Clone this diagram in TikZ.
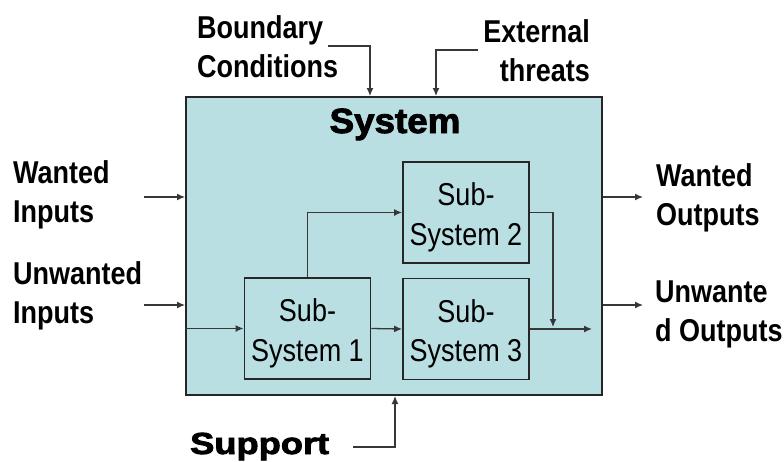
\documentclass[tikz,border=0pt]{standalone}
\usepackage{fontspec}
\setmainfont{Liberation Sans}
\newfontfamily\heavyfont[FakeBold=2.5]{Liberation Sans Bold}
\usetikzlibrary{arrows.meta}
\definecolor{sysfill}{RGB}{186,223,227}
\definecolor{wirecol}{RGB}{55,55,55}
% multi-line text, stretched a little in height, baseline on the first line
\newcommand{\tallbox}[2]{\scalebox{1}[1.17]{\begin{tabular}[t]{@{}#1@{}}#2\end{tabular}}}
\begin{document}
\begin{tikzpicture}[x=1pt,y=-1pt,
  lbl/.style={inner sep=0, font=\fontsize{27}{34}\selectfont\bfseries},
  subsys/.style={draw=black!85, line width=1.8pt, fill=sysfill,
    minimum width=126pt, minimum height=101pt, inner sep=0,
    text height=10pt, text depth=24pt, font=\fontsize{27}{34}\selectfont},
  wire/.style={draw=wirecol, line width=1.3pt, -{Latex[length=8pt,width=7pt]}}]
\useasboundingbox (0,0) rectangle (784,461);

% the system and its parts
\node[draw=black!85, line width=2pt, fill=sysfill, minimum width=416pt,
      minimum height=298pt, inner sep=0] (sys) at (394,246) {};
\node[anchor=base, inner sep=0] (title) at (395,133)
  {\scalebox{1.05}[1]{\heavyfont\fontsize{35}{40}\selectfont System}};
\node[subsys] (ss1) at (307.5,328.5) {\tallbox{c}{Sub-\\System 1}};
\node[subsys] (ss2) at (466,212.5) {\tallbox{c}{Sub-\\System 2}};
\node[subsys] (ss3) at (466,329) {\tallbox{c}{Sub-\\System 3}};

% labels around the system
\node[lbl, anchor=base west] (bc) at (197,38) {\tallbox{l}{Boundary\\Conditions}};
\node[lbl, anchor=base east] (et) at (590,42) {\tallbox{r}{External\\threats}};
\node[lbl, anchor=base west] (wi) at (13,183) {\tallbox{l}{Wanted\\Inputs}};
\node[lbl, anchor=base west] (ui) at (13,284) {\tallbox{l}{Unwanted\\Inputs}};
\node[lbl, anchor=base west] (wo) at (656,186) {\tallbox{l}{Wanted\\Outputs}};
\node[lbl, anchor=base west] (uo) at (655,302) {\tallbox{l}{Unwante\\d Outputs}};
\node[anchor=base west, inner sep=0] (sup) at (190,454)
  {\scalebox{1.25}[1.05]{\heavyfont\fontsize{29}{34}\selectfont Support}};

% free ends of the connectors
\coordinate (bcS) at (328,46);
\coordinate (bcT) at (370,46);
\coordinate (etS) at (478,50);
\coordinate (etT) at (436,50);
\coordinate (wiS) at (144,197);
\coordinate (uiS) at (144,305);
\coordinate (woE) at (643,197);
\coordinate (uoE) at (643,305);
\coordinate (supS) at (353,447);
\coordinate (supT) at (395,447);
\coordinate (join) at (553,327);
\coordinate (flow) at (592,330);

% connectors
\draw[wire] (bcS) -- (bcT) -- (bcT |- sys.north);
\draw[wire] (etS) -- (etT) -- (etT |- sys.north);
\draw[wire] (wiS) -- (wiS -| sys.west);
\draw[wire] (uiS) -- (uiS -| sys.west);
\draw[wire] (supS) -- (supT) -- (supT |- sys.south);
\draw[wire] (ss1.west -| sys.west) -- (ss1.west);
\draw[wire] (ss1.north) |- (ss2.west);
\draw[wire] (ss1.east) -- (ss3.west);
\draw[wire] (ss2.east) -| (join);
\draw[wire] (ss3.east) -- (ss3.east -| flow);
\draw[wire] (woE -| sys.east) -- (woE);
\draw[wire] (uoE -| sys.east) -- (uoE);
\end{tikzpicture}
\end{document}
